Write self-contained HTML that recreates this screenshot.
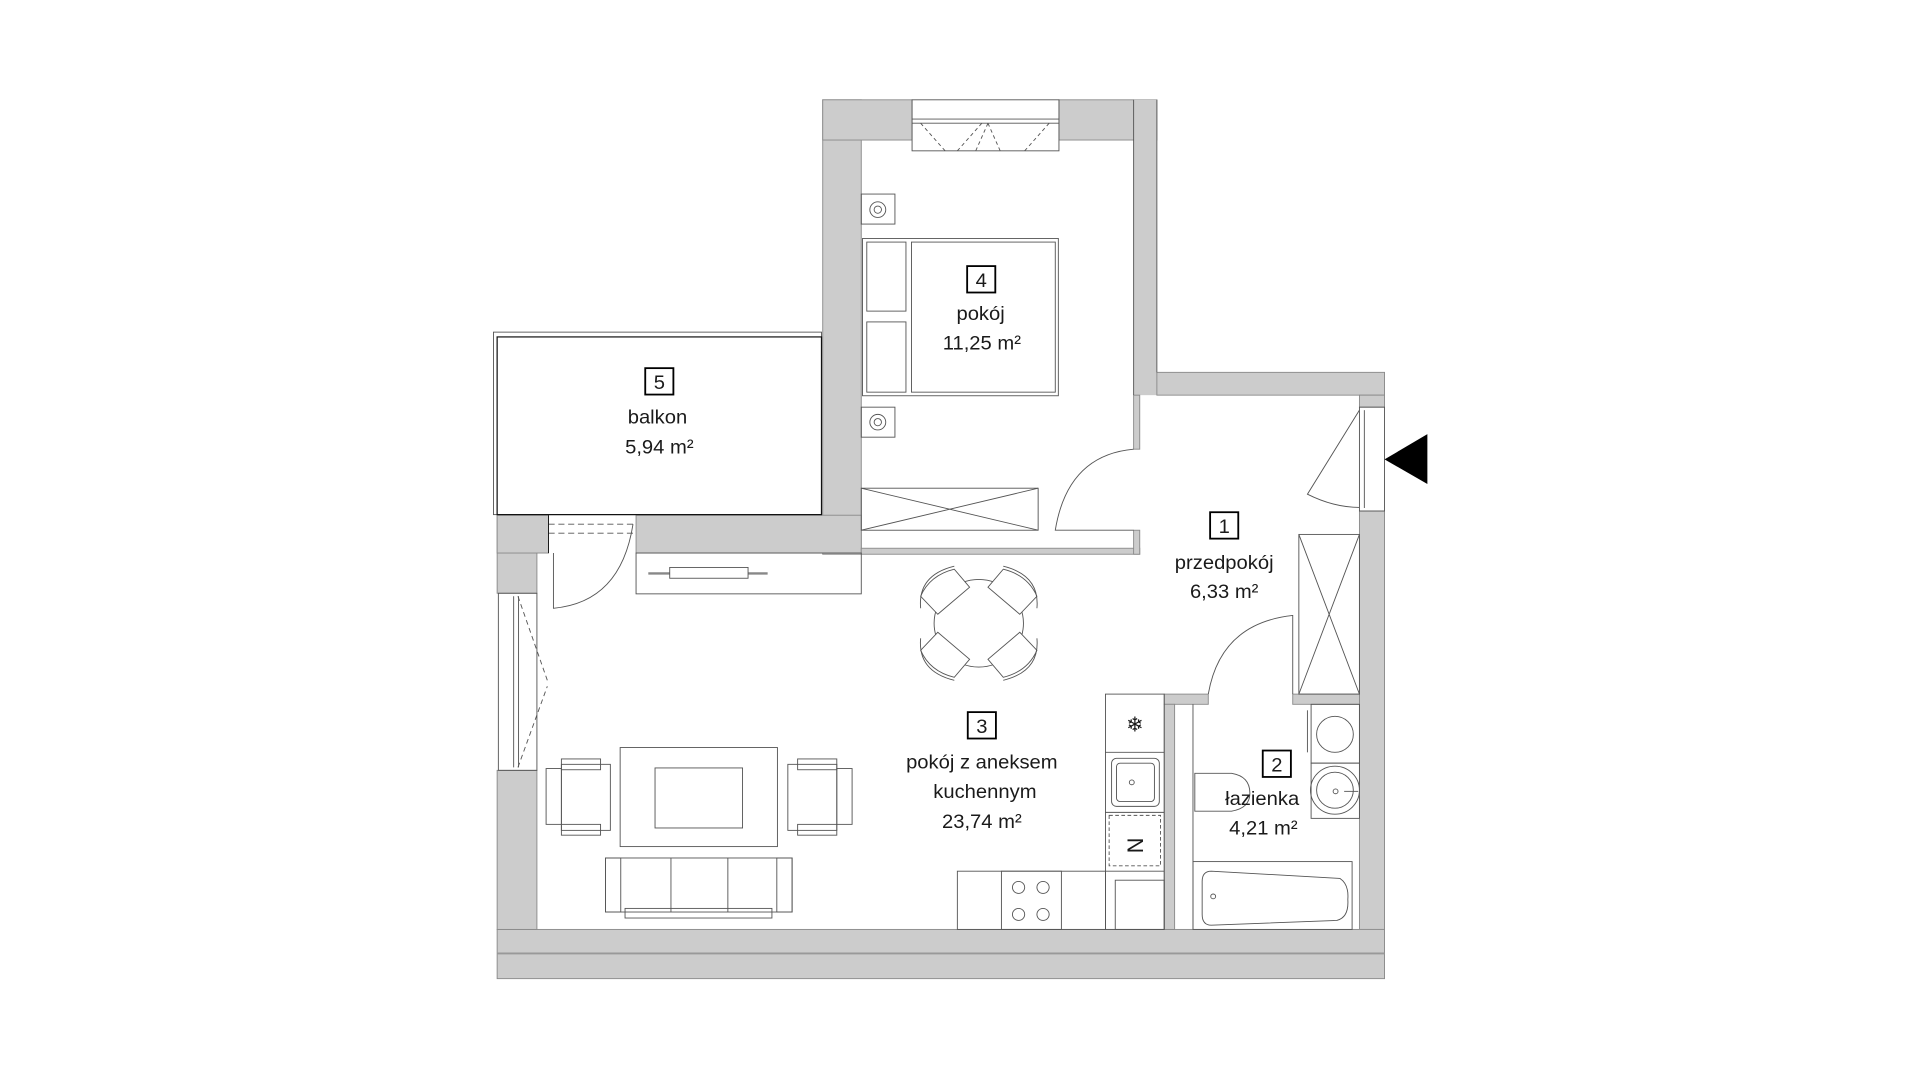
<!DOCTYPE html>
<html><head><meta charset="utf-8"><style>
html,body{margin:0;padding:0;background:#fff;width:1920px;height:1080px;overflow:hidden}
svg{position:absolute;left:0;top:0}
text{font-family:"Liberation Sans",Arial,sans-serif;fill:#1a1a1a}
</style></head><body>
<svg width="1920" height="1080" viewBox="0 0 1920 1080">
<g transform="translate(480,80) scale(0.612,0.6003)">
<g fill="#cccccc" stroke="#8a8a8a" stroke-width="1.5">
<rect x="560" y="33" width="63" height="757"/>
<rect x="560" y="33" width="146" height="67"/>
<rect x="946" y="33" width="160" height="67"/>
<rect x="1068" y="33" width="38" height="492" stroke="none"/>
<rect x="1106" y="487" width="372" height="38"/>
<rect x="1068" y="525" width="10" height="90"/>
<rect x="1437" y="525" width="41" height="20"/>
<rect x="1437" y="718" width="41" height="697"/>
<rect x="28" y="1415" width="1450" height="82"/>
<line x1="28" y1="1455" x2="1478" y2="1455" stroke="#999" stroke-width="3"/>
<rect x="28" y="725" width="65" height="130"/>
<rect x="28" y="1150" width="65" height="265"/>
<rect x="28" y="725" width="84" height="63"/>
<rect x="255" y="725" width="368" height="63"/>
<rect x="623" y="780" width="455" height="10"/>
<rect x="1068" y="750" width="10" height="40"/>
<rect x="1118" y="1023" width="72" height="17"/>
<rect x="1328" y="1023" width="109" height="17"/>
<rect x="1118" y="1040" width="17" height="375"/>
</g>
<g fill="none" stroke="#555" stroke-width="1.5">
<line x1="1068" y1="33" x2="1068" y2="525"/>
<line x1="1106" y1="33" x2="1106" y2="487"/>
<rect x="706" y="33" width="240" height="85"/>
<line x1="706" y1="65" x2="946" y2="65"/><line x1="706" y1="72" x2="946" y2="72"/>
<path d="M720 72 L760 118 M820 72 L780 118 M830 72 L810 118 M830 72 L850 118 M930 72 L890 118" stroke-dasharray="6 5"/>
<rect x="22" y="420" width="536" height="304"/>
<rect x="28" y="428" width="530" height="296" stroke="#111" stroke-width="2"/>
<line x1="112" y1="740" x2="250" y2="740" stroke-dasharray="10 6"/>
<line x1="112" y1="755" x2="250" y2="755" stroke-dasharray="10 6"/>
<line x1="112" y1="725" x2="112" y2="788" stroke="#111"/>
<path d="M120 788 L120 880 Q230 870 250 740"/>
<rect x="30" y="855" width="63" height="295"/>
<line x1="55" y1="860" x2="55" y2="1145"/><line x1="63" y1="860" x2="63" y2="1145"/>
<path d="M62 860 L110 1000 M62 1145 L110 1010" stroke-dasharray="8 6"/>
<rect x="1437" y="545" width="41" height="173"/>
<line x1="1445" y1="550" x2="1445" y2="713"/>
<path d="M1437 550 L1352 690 Q1395 712 1437 712"/>
<path d="M1068 615 Q960 625 940 750 L1068 750"/>
<rect x="623" y="190" width="55" height="50"/><circle cx="650" cy="216" r="13"/><circle cx="650" cy="216" r="6"/>
<rect x="623" y="545" width="55" height="50"/><circle cx="650" cy="570" r="13"/><circle cx="650" cy="570" r="6"/>
<rect x="625" y="264" width="320" height="262"/>
<rect x="705" y="270" width="235" height="250"/>
<rect x="632" y="270" width="64" height="115"/><rect x="632" y="403" width="64" height="117"/>
<rect x="623" y="680" width="289" height="70"/>
<path d="M623 680 L912 750 M623 750 L912 680"/>
<rect x="255" y="788" width="368" height="68"/>
<line x1="275" y1="822" x2="470" y2="822" stroke-width="4" stroke="#888"/>
<rect x="310" y="812" width="128" height="18" fill="#fff"/>
<circle cx="815" cy="905" r="73"/>
<g id="ch">
<path d="M748 890 L800 845 L775 815 Q735 825 720 860 Z" fill="#fff"/>
<path d="M720 880 Q715 825 775 810"/>
</g>
<use href="#ch" transform="translate(1630 0) scale(-1 1)"/>
<use href="#ch" transform="translate(0 1810) scale(1 -1)"/>
<use href="#ch" transform="translate(1630 1810) scale(-1 -1)"/>
<rect x="229" y="1112" width="257" height="165"/>
<rect x="286" y="1146" width="143" height="100"/>
<rect x="108" y="1147" width="25" height="93"/><rect x="133" y="1140" width="80" height="110"/>
<rect x="133" y="1131" width="64" height="18"/><rect x="133" y="1240" width="64" height="18"/>
<rect x="583" y="1147" width="25" height="93"/><rect x="503" y="1140" width="80" height="110"/>
<rect x="519" y="1131" width="64" height="18"/><rect x="519" y="1240" width="64" height="18"/>
<rect x="205" y="1296" width="305" height="90"/>
<line x1="312" y1="1296" x2="312" y2="1386"/><line x1="405" y1="1296" x2="405" y2="1386"/>
<rect x="205" y="1296" width="25" height="90"/><rect x="485" y="1296" width="25" height="90"/>
<rect x="237" y="1380" width="240" height="16"/>
<rect x="780" y="1318" width="242" height="97"/>
<rect x="852" y="1318" width="98" height="97"/>
<circle cx="880" cy="1345" r="10"/><circle cx="920" cy="1345" r="10"/>
<circle cx="880" cy="1390" r="10"/><circle cx="920" cy="1390" r="10"/>
<rect x="1022" y="1023" width="96" height="392"/>
<line x1="1022" y1="1120" x2="1118" y2="1120"/><line x1="1022" y1="1220" x2="1118" y2="1220"/>
<line x1="1022" y1="1318" x2="1118" y2="1318"/>
<rect x="1032" y="1130" width="78" height="80" rx="8"/><rect x="1040" y="1138" width="62" height="64" rx="6"/>
<circle cx="1065" cy="1170" r="4"/>
<rect x="1028" y="1225" width="84" height="84" stroke-dasharray="6 4"/>
<rect x="1038" y="1333" width="80" height="82"/>
<rect x="1338" y="757" width="99" height="266"/>
<path d="M1338 757 L1437 1023 M1437 757 L1338 1023"/>
<path d="M1328 1023 L1328 892 Q1210 905 1190 1023"/>
<line x1="1165" y1="1040" x2="1165" y2="1415"/>
<rect x="1165" y="1302" width="260" height="113"/>
<path d="M1195 1318 L1405 1330 Q1420 1340 1418 1365 Q1420 1395 1400 1400 L1195 1408 Q1180 1408 1180 1390 L1180 1335 Q1180 1318 1195 1318 Z"/>
<circle cx="1198" cy="1360" r="4"/>
<path d="M1168 1155 L1228 1155 Q1258 1160 1258 1188 Q1258 1213 1228 1218 L1168 1218 Z"/>
<rect x="1358" y="1040" width="79" height="98"/>
<circle cx="1397" cy="1090" r="30"/>
<rect x="1358" y="1138" width="79" height="92"/>
<circle cx="1397" cy="1183" r="40"/><circle cx="1397" cy="1183" r="30"/>
<circle cx="1398" cy="1185" r="4"/><line x1="1412" y1="1185" x2="1435" y2="1185"/>
<line x1="1352" y1="1050" x2="1352" y2="1120"/>
</g>
<polygon points="1478,632 1548,590 1548,673" fill="#000"/>
<g fill="none" stroke="#000" stroke-width="3">
<rect x="796" y="310" width="46" height="44"/>
<rect x="270" y="480" width="46" height="44"/>
<rect x="1193" y="720" width="46" height="44"/>
<rect x="797" y="1053" width="46" height="44"/>
<rect x="1279" y="1117" width="46" height="44"/>
</g>
<g font-size="33" text-anchor="middle">
<text x="819" y="345">4</text><text x="818" y="400">pokój</text><text x="820" y="449">11,25 m²</text>
<text x="293" y="515">5</text><text x="290" y="572">balkon</text><text x="293" y="622">5,94 m²</text>
<text x="1216" y="755">1</text><text x="1216" y="815">przedpokój</text><text x="1216" y="863">6,33 m²</text>
<text x="820" y="1088">3</text><text x="820" y="1147">pokój z aneksem</text><text x="825" y="1196">kuchennym</text><text x="820" y="1246">23,74 m²</text>
<text x="1302" y="1152">2</text><text x="1278" y="1208">łazienka</text><text x="1280" y="1257">4,21 m²</text>
<text x="1070" y="1287" font-size="36" transform="rotate(90 1070 1275)">N</text>
<text x="1070" y="1085" font-size="34">❄</text>
</g>
</g>
</svg>
</body></html>
